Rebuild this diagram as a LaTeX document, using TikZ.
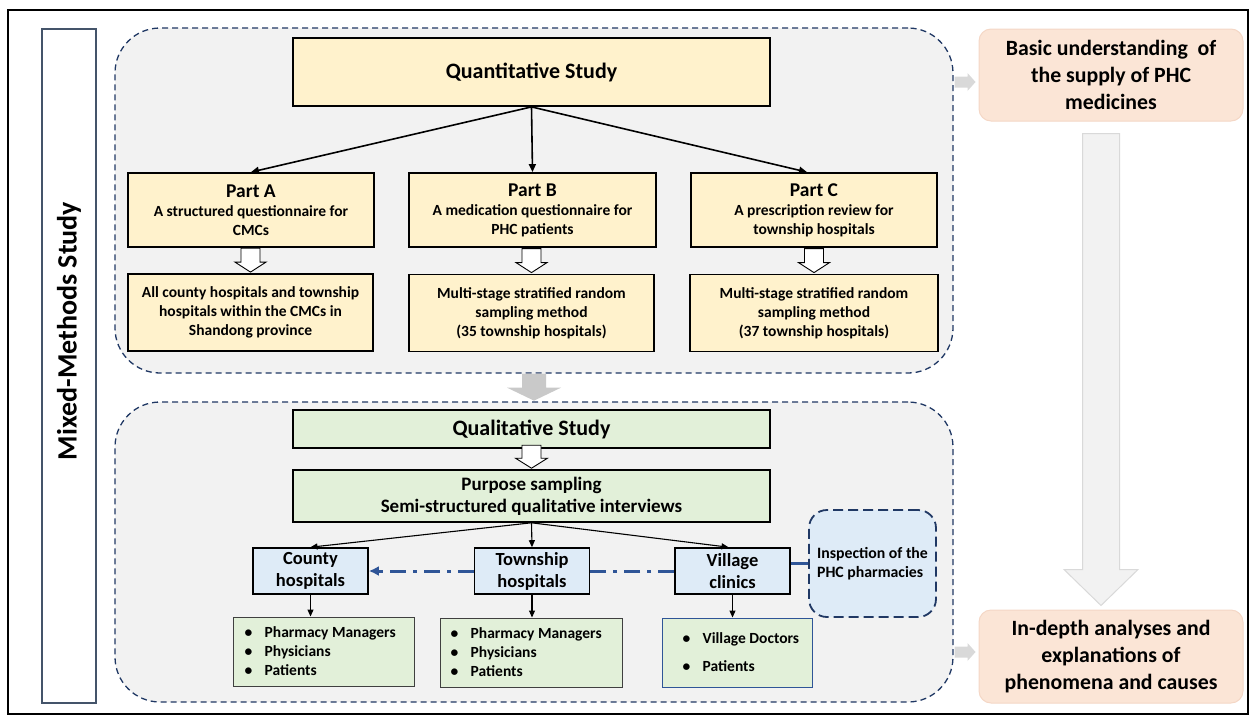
\documentclass[tikz,border=0pt]{standalone}
\usepackage{fontspec}
\setmainfont{Carlito}
\usepackage{tikz}
\usetikzlibrary{arrows.meta,positioning}
\definecolor{regionnavy}{HTML}{203864}
\definecolor{regiongrey}{HTML}{F2F2F2}
\definecolor{mixnavy}{HTML}{44546A}
\definecolor{quanyellow}{HTML}{FFF2CC}
\definecolor{qualgreen}{HTML}{E2F0D9}
\definecolor{siteblue}{HTML}{DEEBF7}
\definecolor{listborder}{HTML}{404040}
\definecolor{resultpeach}{HTML}{FBE5D6}
\definecolor{resultborder}{HTML}{F4D7C6}
\definecolor{linkblue}{HTML}{2F5597}
\definecolor{arrowgrey}{HTML}{C9C9C9}
\definecolor{paleline}{HTML}{D9D9D9}
\newcommand{\bul}[1]{\makebox[20pt][l]{\textbullet}#1}
% block arrows: length, head width, shaft width, head length (tip at the pic origin)
\tikzset{
  pics/blockdown/.style n args={4}{code={
    \path[pic actions] (0,0) -- (-#2/2,-#4) -- (-#3/2,-#4) -- (-#3/2,-#1)
      -- (#3/2,-#1) -- (#3/2,-#4) -- (#2/2,-#4) -- cycle;}},
  pics/blockright/.style n args={4}{code={
    \path[pic actions] (0,0) -- (-#4,-#2/2) -- (-#4,-#3/2) -- (-#1,-#3/2)
      -- (-#1,#3/2) -- (-#4,#3/2) -- (-#4,#2/2) -- cycle;}}
}

\begin{document}
\begin{tikzpicture}[x=1pt,y=-1pt,
  region/.style={draw=regionnavy,dash pattern=on 6pt off 4pt,line width=1.3pt,fill=regiongrey,rounded corners=45pt},
  mixbox/.style={draw=mixnavy,line width=1.3pt,fill=white},
  quanbox/.style={draw=black,line width=1.8pt,fill=quanyellow,align=center,inner sep=0pt,font=\bfseries\fontsize{15.5}{19}\selectfont},
  qualbox/.style={draw=black,line width=1.6pt,fill=qualgreen,align=center,inner sep=0pt,font=\bfseries\fontsize{19}{22}\selectfont},
  sitebox/.style={draw=black,line width=1.6pt,fill=siteblue,align=center,inner sep=0pt,minimum width=115pt,minimum height=46pt,font=\bfseries\fontsize{18.5}{22}\selectfont},
  listbox/.style={draw=listborder,line width=1pt,fill=qualgreen,minimum height=69pt},
  listtext/.style={anchor=west,align=left,inner sep=0pt,font=\bfseries\fontsize{15.5}{19}\selectfont},
  resultbox/.style={draw=resultborder,line width=1pt,fill=resultpeach,rounded corners=12pt,align=center,inner sep=0pt,minimum width=264pt,font=\bfseries\fontsize{21.8}{27}\selectfont},
  hollow/.style={draw=black,line width=0.9pt,fill=white},
  arr/.style={-{Triangle[length=8pt,width=7pt]},line width=1.6pt},
  thinarr/.style={-{Triangle[length=7pt,width=6pt]},line width=1.1pt},
  link/.style={draw=linkblue,line width=3pt,dash pattern=on 16pt off 7pt on 4pt off 7pt}
]
\useasboundingbox (0,0) rectangle (1250,715);
\draw[line width=1.5pt] (8,10) rectangle (1248,714);

% frame and the two study regions
\node[mixbox,minimum width=54pt,minimum height=674pt] (mixed) at (69,366) {};
\node[rotate=90,inner sep=0pt,font=\bfseries\fontsize{28}{30}\selectfont] (mixedlbl) at ([yshift=35pt]mixed.center) {Mixed-Methods Study};
\node[region,minimum width=838pt,minimum height=345pt] (upper) at (534,200.5) {};
\node[region,minimum width=838pt,minimum height=300pt] (lower) at (534,552) {};

% quantitative part
\node[quanbox,minimum width=477pt,minimum height=68pt,font=\bfseries\fontsize{22}{25}\selectfont] (quan) at (531.5,72) {Quantitative Study};
\node[quanbox,minimum width=246pt,minimum height=74pt] (partA) at (251,210) {{\fontsize{19.5}{20}\selectfont Part A}\\A structured questionnaire for\\CMCs};
\node[quanbox,minimum width=247pt,minimum height=74pt] (partB) at (532.5,210) {{\fontsize{19.5}{20}\selectfont Part B}\\A medication questionnaire for\\PHC patients};
\node[quanbox,minimum width=246pt,minimum height=74pt] (partC) at (814,210) {{\fontsize{19.5}{20}\selectfont Part C}\\A prescription review for\\township hospitals};
\node[quanbox,minimum width=245pt,minimum height=77pt] (sampA) at (250.5,312.5) {All county hospitals and township\\hospitals within the CMCs in\\Shandong province};
\node[quanbox,minimum width=245pt,minimum height=77pt] (sampB) at (531.5,313) {Multi-stage stratified random\\sampling method\\(35 township hospitals)};
\node[quanbox,minimum width=248pt,minimum height=77pt] (sampC) at (814,313) {Multi-stage stratified random\\sampling method\\(37 township hospitals)};
\draw[arr] (quan.south) -- (partA.north);
\draw[arr] (quan.south) -- (partB.north);
\draw[arr] (quan.south) -- ([xshift=-7pt]partC.north);
\pic[hollow] at ([yshift=1pt]sampA.north) {blockdown={24}{31}{19}{10}};
\pic[hollow] at ([yshift=1pt]sampB.north) {blockdown={24}{31}{19}{10}};
\pic[hollow] at ([yshift=1pt]sampC.north) {blockdown={24}{31}{19}{10}};

% qualitative part
\node[qualbox,minimum width=477pt,minimum height=38pt,font=\bfseries\fontsize{22}{24}\selectfont] (qual) at (531.5,429) {Qualitative Study};
\node[qualbox,minimum width=477pt,minimum height=52pt] (purpose) at (531.5,496) {Purpose sampling\\Semi-structured qualitative interviews};
\pic[hollow] at ([yshift=1pt]purpose.north) {blockdown={23}{32}{19}{10}};
\node[sitebox] (county) at (310.5,571) {County\\hospitals};
\node[sitebox] (township) at (532,571) {Township\\hospitals};
\node[sitebox] (village) at (732.5,571) {Village\\clinics};
\node[draw=regionnavy,dash pattern=on 10pt off 5pt,line width=1.8pt,fill=siteblue,rounded corners=18pt,minimum width=127pt,minimum height=107pt,align=left,inner sep=0pt,font=\bfseries\fontsize{15.8}{19}\selectfont] (inspect) at (872.5,563.5) {Inspection of the\\PHC pharmacies};
\draw[thinarr] (purpose.south) -- (county.north);
\draw[thinarr] (purpose.south) -- (township.north);
\draw[thinarr] (purpose.south) -- ([xshift=-4pt]village.north);
\draw[link] (village.west) -- (township.east);
\draw[link,-{Latex[length=10pt,width=10pt]}] (township.west) -- (county.east);
\draw[draw=linkblue,line width=3pt] (inspect.west) -- (inspect.west -| village.east);

\node[listbox,minimum width=181pt] (listA) at (323.5,651.5) {};
\node[listbox,minimum width=182pt] (listB) at (531,652.5) {};
\node[listbox,minimum width=150pt,draw=linkblue] (listC) at (737,652.5) {};
\node[listtext] at ([xshift=12pt]listA.west) {\bul{Pharmacy Managers}\\\bul{Physicians}\\\bul{Patients}};
\node[listtext] at ([xshift=11pt]listB.west) {\bul{Pharmacy Managers}\\\bul{Physicians}\\\bul{Patients}};
\node[listtext] at ([xshift=21pt]listC.west) {\bul{Village Doctors}\\[9pt]\bul{Patients}};
\draw[thinarr] (county.south) -- (county.south |- listA.north);
\draw[thinarr] (township.south) -- (township.south |- listB.north);
\draw[thinarr] (village.south) -- (village.south |- listC.north);

% results on the right
\node[resultbox,minimum height=92pt] (basic) at (1111,75) {Basic understanding~ of\\the supply of PHC\\medicines};
\node[resultbox,minimum height=93pt] (indepth) at (1111,656.5) {In-depth analyses and\\explanations of\\phenomena and causes};
\pic[fill=arrowgrey] at ([yshift=-27pt]upper.south) {blockdown={27}{54}{24}{13}};
\pic[fill=paleline] at ([xshift=-3pt]basic.west |- 0,82) {blockright={21}{18}{11}{8}};
\pic[fill=paleline] at ([xshift=-3pt]indepth.west |- 0,652) {blockright={21}{18}{11}{8}};
\pic[draw=paleline,line width=1pt,fill=regiongrey] at ([xshift=-10pt,yshift=-484pt]basic.south) {blockdown={472}{74}{37}{36}};
\end{tikzpicture}
\end{document}
